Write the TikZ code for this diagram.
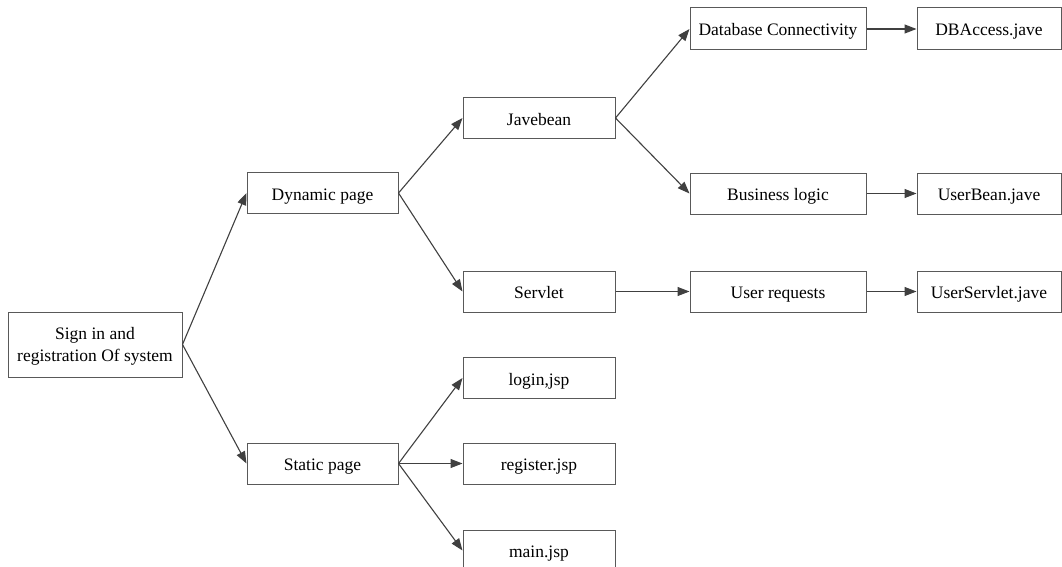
\documentclass[tikz,border=0pt]{standalone}
\usepackage{fontspec}
\setmainfont{Liberation Serif}
\usetikzlibrary{arrows.meta}
\begin{document}
\begin{tikzpicture}[x=1pt,y=-1pt,
  box/.style={draw=black!65,line width=1pt,inner sep=0pt,font=\rmfamily\fontsize{17.5}{22}\selectfont},
  one/.style={box,text height=16pt,text depth=2pt},
  wa/.style={one,minimum width=151pt,minimum height=41pt},
  wb/.style={one,minimum width=176pt,minimum height=41pt},
  wc/.style={one,minimum width=144pt,minimum height=41pt},
  conn/.style={draw=black!75,line width=1.1pt,-{Triangle[length=12pt,width=9pt]}}]
\useasboundingbox (0,0) rectangle (1062,567);
\node[box,align=center,minimum width=174pt,minimum height=65pt] (sign) at (95,344.5) {\rule{0pt}{15pt}Sign in and\\registration Of system};
\node[wa] (dyn) at (322.5,193) {Dynamic page};
\node[wa] (stat) at (322.5,463.5) {Static page};
\node[wa,minimum width=152pt] (jave) at (539,118) {Javebean};
\node[wa,minimum width=152pt] (serv) at (539,291.5) {Servlet};
\node[wa,minimum width=152pt] (login) at (539,378) {login,jsp};
\node[wa,minimum width=152pt] (reg) at (539,463.5) {register.jsp};
\node[wa,minimum width=152pt] (mainj) at (539,550.5) {main.jsp};
\node[wb,minimum height=42pt] (db) at (778,29) {Database Connectivity};
\node[wb] (biz) at (778,193.5) {Business logic};
\node[wb] (ureq) at (778,291.5) {User requests};
\node[wc,minimum height=42pt] (dba) at (989,29) {DBAccess.jave};
\node[wc] (ubean) at (989,193.5) {UserBean.jave};
\node[wc] (userv) at (989,291.5) {UserServlet.jave};
\draw[conn] (sign.east) -- (dyn.west);
\draw[conn] (sign.east) -- (stat.west);
\draw[conn] (dyn.east) -- (jave.west);
\draw[conn] (dyn.east) -- (serv.west);
\draw[conn] (stat.east) -- (login.west);
\draw[conn] (stat.east) -- (reg.west);
\draw[conn] (stat.east) -- (mainj.west);
\draw[conn] (jave.east) -- (db.west);
\draw[conn] (jave.east) -- (biz.west);
\draw[conn] (serv.east) -- (ureq.west);
\draw[conn] (db.east) -- (dba.west);
\draw[conn] (biz.east) -- (ubean.west);
\draw[conn] (ureq.east) -- (userv.west);
\end{tikzpicture}
\end{document}
